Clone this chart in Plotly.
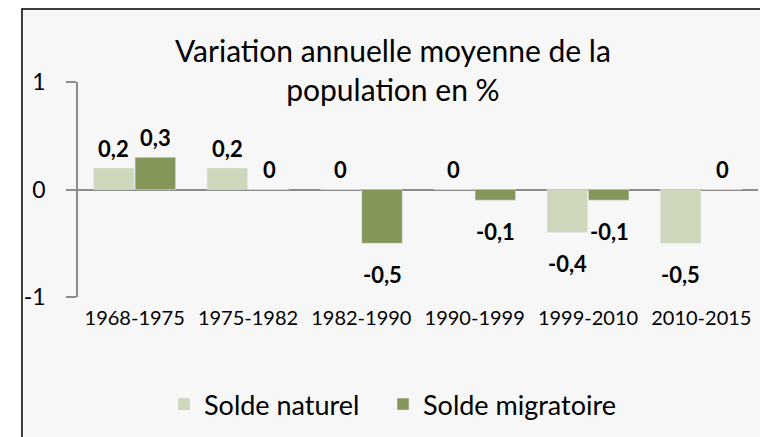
import plotly.graph_objects as go

# Data
periods = ["1968-1975", "1975-1982", "1982-1990", "1990-1999", "1999-2010", "2010-2015"]
solde_naturel = [0.2, 0.2, 0, 0, -0.4, -0.5]
solde_migratoire = [0.3, 0, -0.5, -0.1, -0.1, 0]

LIGHT = "#CCD7BB"
DARK = "#84965A"
FONT = "Lato, 'Open Sans', sans-serif"


def fmt(v):
    # French decimal comma, Excel-style "0" for zero
    return ("%g" % v).replace(".", ",")


fig = go.Figure()
fig.add_trace(go.Bar(x=periods, y=solde_naturel, name="Solde naturel",
                     marker_color=LIGHT, legend="legend"))
fig.add_trace(go.Bar(x=periods, y=solde_migratoire, name="Solde migratoire",
                     marker_color=DARK, legend="legend2"))

# Data labels, offset like Excel does
annotations = []
for series, dx in ((solde_naturel, -21), (solde_migratoire, 21)):
    for p, v in zip(periods, series):
        annotations.append(dict(
            x=p, y=v, xref="x", yref="y", text="<b>%s</b>" % fmt(v),
            showarrow=False, xshift=dx, yshift=20 if v >= 0 else -31,
            font=dict(size=22, color="black", family=FONT)))

legend_style = dict(orientation="h", xanchor="left", y=-0.50, yanchor="middle",
                    font=dict(size=27, family=FONT),
                    bgcolor="rgba(0,0,0,0)")

fig.update_layout(
    width=760, height=437,
    margin=dict(l=78, r=2, t=82, b=140),
    paper_bgcolor="white",
    plot_bgcolor="rgba(0,0,0,0)",
    font=dict(family=FONT, color="black"),
    barmode="group", bargap=0.27, bargroupgap=0.02,
    showlegend=True,
    title=dict(text="Variation annuelle moyenne de la<br>population en %",
               x=0.517, xref="container", xanchor="center",
               y=0.859, yref="container", yanchor="middle",
               font=dict(size=30, family=FONT, color="black")),
    legend=dict(x=(164 - 78) / 680, **legend_style),
    legend2=dict(x=(383 - 78) / 680, **legend_style),
    annotations=annotations,
    shapes=[dict(type="rect", xref="paper", yref="paper",
                 x0=-0.0824, x1=1.2, y0=-0.8, y1=1.3395,
                 line=dict(color="black", width=1.5),
                 fillcolor="#F7F7F7", layer="below")],
)

fig.update_yaxes(range=[-1, 1], tickvals=[-1, 0, 1], ticktext=["-1", "0", "1"],
                 showline=True, linecolor="#8C8C8C", linewidth=1.5,
                 ticks="outside", ticklen=10, tickcolor="#8C8C8C",
                 tickwidth=1.5, ticklabelstandoff=16,
                 showgrid=True, gridcolor="white", gridwidth=1.5,
                 zeroline=True, zerolinecolor="#8C8C8C", zerolinewidth=1.5,
                 tickfont=dict(size=23, family=FONT))
fig.update_xaxes(showline=False, showgrid=False, ticks="",
                 ticklabelstandoff=7,
                 tickfont=dict(size=20, family=FONT))

fig.write_html("out.html", config={"displayModeBar": False},
               post_script="document.body.style.margin='0';")
